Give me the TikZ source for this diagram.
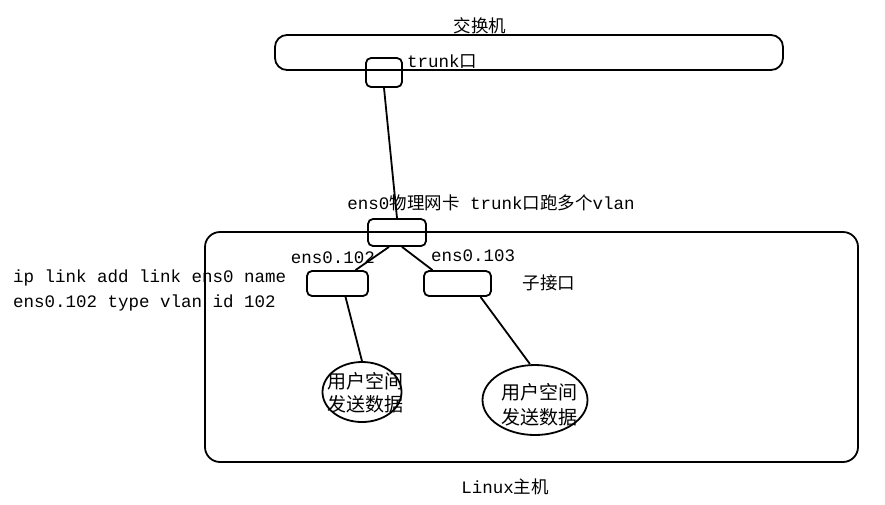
\documentclass[tikz,border=0pt]{standalone}
\usepackage{fontspec}
\setmainfont{Liberation Mono}
\newfontfamily\cjk{Noto Sans CJK SC}
\usetikzlibrary{calc,shapes.geometric}
\newcommand{\zh}[1]{{\cjk #1}}
\tikzset{
  box/.style={draw,line width=1.8pt,rounded corners=5pt,inner sep=0pt},
  oval/.style={draw,line width=1.8pt,ellipse,inner sep=0pt},
  lbl/.style={inner sep=0pt,font=\fontsize{17.5}{21}\selectfont},
  wire/.style={line width=1.8pt}
}
\begin{document}
\begin{tikzpicture}[x=1pt,y=-1pt]
\useasboundingbox (0,0) rectangle (885,504);
% switch
\node[box,rounded corners=12pt,minimum width=508pt,minimum height=35pt] (switch) at (529,52.5) {};
\node[lbl] (switchlbl) at (480,26) {\zh{交换机}};
\node[box,minimum width=36pt,minimum height=29pt] (trunkport) at (384,72.5) {};
\node[lbl,anchor=west] (trunklbl) at (407,62) {trunk\zh{口}};
% host
\node[box,rounded corners=15pt,minimum width=653pt,minimum height=230pt] (host) at (531.5,347) {};
\node[lbl] (hostlbl) at (505,487) {Linux\zh{主机}};
\node[box,minimum width=58pt,minimum height=27pt] (ens0) at (397,232.5) {};
\node[lbl] (ens0lbl) at (491,203) {ens0\zh{物理网卡} trunk\zh{口跑多个}vlan};
\node[box,minimum width=61pt,minimum height=25pt] (sub102) at (337.5,283.5) {};
\node[box,minimum width=67pt,minimum height=25pt] (sub103) at (457.5,283.5) {};
\node[lbl] (l102) at (333,258) {ens0.102};
\node[lbl] (l103) at (473,256) {ens0.103};
\node[lbl] (sublbl) at (549,283) {\zh{子接口}};
\node[lbl,anchor=west] (cmd1) at (13,278) {ip link add link ens0 name};
\node[lbl,anchor=west] (cmd2) at (13,303) {ens0.102 type vlan id 102};
\node[oval,minimum width=79pt,minimum height=60pt] (e1) at (362,392) {};
\node[oval,minimum width=105pt,minimum height=70pt] (e2) at (535,400) {};
\node[lbl,align=center,font=\fontsize{19}{23}\selectfont\cjk] (t1) at (365,393) {用户空间\\发送数据};
\node[lbl,align=center,font=\fontsize{19}{25}\selectfont\cjk] (t2) at (539,405) {用户空间\\发送数据};
% wires
\draw[wire] (trunkport.south) -- (ens0.north);
\draw[wire] ($(ens0.south)+(-8,0)$) -- ($(sub102.north)+(18,0)$);
\draw[wire] ($(ens0.south)+(5,0)$) -- ($(sub103.north)+(-25,0)$);
\draw[wire] ($(sub102.south)+(8,0)$) -- (e1.north);
\draw[wire] ($(sub103.south)+(23,0)$) -- ($(e2.north)+(-5,0)$);
\end{tikzpicture}
\end{document}
